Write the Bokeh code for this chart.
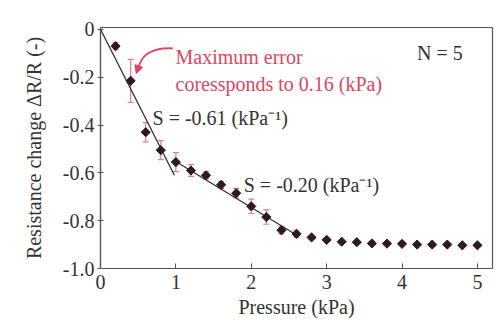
from bokeh.plotting import figure
from bokeh.models import (Whisker, TeeHead, Label, FixedTicker, CustomJSTickFormatter,
                          ColumnDataSource, Range1d, Arrow, NormalHead)
from bokeh.embed import file_html
from bokeh.resources import INLINE

# ---- data ----
pressure = [0.2, 0.4, 0.6, 0.8, 1.0, 1.2, 1.4, 1.6, 1.8, 2.0, 2.2, 2.4, 2.6,
            2.8, 3.0, 3.2, 3.4, 3.6, 3.8, 4.0, 4.2, 4.4, 4.6, 4.8, 5.0]
resistance_change = [-0.07, -0.215, -0.43, -0.505, -0.555, -0.59, -0.61, -0.65, -0.685,
                     -0.74, -0.785, -0.84, -0.855, -0.87, -0.88, -0.888, -0.89, -0.895,
                     -0.896, -0.897, -0.90, -0.90, -0.90, -0.903, -0.903]
error = [0.015, 0.09, 0.04, 0.04, 0.04, 0.025, 0.015, 0.015, 0.02, 0.03, 0.03, 0.015, 0.015,
         0.006, 0.006, 0.005, 0.005, 0.005, 0.005, 0.005, 0.005, 0.005, 0.005, 0.005, 0.005]
fit1_x = [0.0, 0.98]
fit1_y = [0.0, -0.61]
fit2_x = [0.96, 2.6]
fit2_y = [-0.545, -0.86]
x_ticks = [0, 1, 2, 3, 4, 5]
y_ticks = [0, -0.2, -0.4, -0.6, -0.8, -1.0]
y_tick_labels = ["0", "-0.2", "-0.4", "-0.6", "-0.8", "-1.0"]

FONT = "Liberation Serif"
FS = "20px"
RED = "#e2445f"

p = figure(width=496, height=320, output_backend="svg", toolbar_location=None,
           x_range=Range1d(0, 5.2), y_range=Range1d(-1.0, 0.008),
           min_border_left=100, min_border_right=4, min_border_top=27, min_border_bottom=51)
p.background_fill_color = "white"
p.border_fill_color = "white"
p.outline_line_color = "#555555"
p.outline_line_width = 1.2
p.xgrid.visible = False
p.ygrid.visible = False

lo = [y - e for y, e in zip(resistance_change, error)]
hi = [y + e for y, e in zip(resistance_change, error)]
src = ColumnDataSource(dict(x=pressure, y=resistance_change, lo=lo, hi=hi))

p.line(fit1_x, fit1_y, line_color="#333333", line_width=1.3)
p.line(fit2_x, fit2_y, line_color="#333333", line_width=1.3)

EB = "#e67b8e"
w = Whisker(source=src, base="x", lower="lo", upper="hi", line_color=EB, line_width=1.2,
            lower_head=TeeHead(size=6, line_color=EB, line_width=1.2),
            upper_head=TeeHead(size=6, line_color=EB, line_width=1.2))
p.add_layout(w)
p.scatter("x", "y", source=src, marker="square", angle=0.785398, size=6.5,
          fill_color="#2e1a24", line_color="#2e1a24")

# axes
for ax in (p.xaxis[0], p.yaxis[0]):
    ax.axis_line_color = "#555555"
    ax.axis_line_width = 1.2
    ax.major_tick_line_color = "#555555"
    ax.minor_tick_line_color = None
    ax.major_label_text_font = FONT
    ax.major_label_text_font_size = FS
    ax.major_label_text_color = "#333333"
    ax.axis_label_text_font = FONT
    ax.axis_label_text_font_size = FS
    ax.axis_label_text_font_style = "normal"
    ax.axis_label_text_color = "#333333"

p.xaxis.ticker = FixedTicker(ticks=x_ticks)
p.xaxis.major_tick_in = 5
p.xaxis.major_tick_out = 0
p.xaxis.major_label_standoff = 6
p.xaxis.axis_label = "Pressure (kPa)"
p.xaxis.axis_label_standoff = 4

p.yaxis.ticker = FixedTicker(ticks=y_ticks)
p.yaxis.formatter = CustomJSTickFormatter(args=dict(t=y_ticks, l=y_tick_labels), code="""
    let best = 0;
    for (let i = 0; i < t.length; i++) {
        if (Math.abs(t[i] - tick) < Math.abs(t[best] - tick)) best = i;
    }
    return l[best];
""")
p.yaxis.major_tick_in = 3
p.yaxis.major_tick_out = 3
p.yaxis.major_label_standoff = 3
p.yaxis.axis_label = "Resistance change \u0394R/R (-)"
p.yaxis.axis_label_standoff = 15

# annotations
def lab(x, y, text, color="#333333"):
    p.add_layout(Label(x=x, y=y, text=text, text_font=FONT, text_font_size=FS,
                       text_color=color, text_baseline="alphabetic", text_align="left"))

lab(0.995, -0.117, "Maximum error", RED)
lab(0.995, -0.228, "coressponds to 0.16 (kPa)", RED)
lab(4.20, -0.10, "N = 5")
lab(0.69, -0.371, "S = -0.61 (kPa\u207b\u00b9)")
lab(1.90, -0.65, "S = -0.20 (kPa\u207b\u00b9)")

# curved arrow
p.bezier(x0=[0.96], y0=[-0.079], x1=[0.50], y1=[-0.165], cx0=[0.62], cy0=[-0.075],
         cx1=[0.53], cy1=[-0.12], line_color=RED, line_width=1.8)
p.add_layout(Arrow(x_start=0.51, y_start=-0.15, x_end=0.475, y_end=-0.185,
                   line_color=RED, line_width=1.8,
                   end=NormalHead(size=8, fill_color=RED, line_color=RED)))

open("out.html", "w").write(file_html(p, INLINE))
